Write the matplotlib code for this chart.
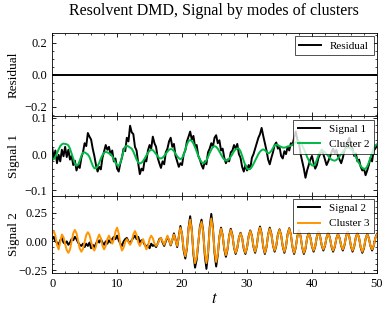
import matplotlib.pyplot as plt
import numpy as np

# time grid (step 0.25)
t = np.linspace(0, 50, 201)

residual = np.zeros(201)

signal_1 = [
    0.018, -0.012, 0.010, -0.025, -0.002, -0.020, 0.012, -0.006,
    0.020, -0.008, 0.012, -0.015, -0.005, -0.030, -0.018, -0.045,
    -0.030, -0.038, -0.010, 0.005, 0.030, 0.022, 0.058, 0.048,
    0.040, 0.015, -0.005, -0.030, -0.048, -0.035, -0.042, -0.010,
    0.008, 0.025, 0.012, 0.020, -0.002, 0.010, -0.020, -0.012,
    -0.040, -0.048, -0.025, -0.010, 0.015, 0.008, 0.045, 0.035,
    0.078, 0.060, 0.055, 0.020, 0.010, -0.025, -0.055, -0.040,
    -0.045, -0.015, -0.020, 0.010, 0.025, 0.015, 0.048, 0.030,
    0.020, -0.010, -0.025, -0.038, -0.020, -0.028, 0.005, 0.015,
    0.035, 0.045, 0.020, 0.028, -0.005, -0.020, -0.035, -0.025,
    -0.030, 0.000, 0.010, 0.035, 0.048, 0.062, 0.040, 0.050,
    0.020, 0.025, -0.005, -0.015, -0.030, -0.040, -0.020, -0.028,
    0.005, 0.015, 0.030, 0.020, 0.045, 0.052, 0.030, 0.038,
    0.010, 0.015, -0.010, -0.025, -0.015, -0.020, 0.005, 0.010,
    0.025, 0.015, 0.028, 0.000, -0.010, -0.035, -0.048, -0.030,
    -0.045, -0.030, -0.040, -0.010, 0.000, 0.015, 0.030, 0.045,
    0.055, 0.072, 0.050, 0.030, 0.010, -0.015, -0.028, -0.010,
    0.005, 0.025, 0.032, 0.015, 0.020, -0.005, -0.012, 0.008,
    0.000, 0.020, 0.010, 0.030, 0.025, 0.045, 0.062, 0.040,
    0.030, 0.000, -0.020, -0.040, -0.065, -0.045, -0.030, -0.015,
    -0.005, -0.025, -0.040, -0.030, -0.010, 0.000, 0.012, 0.000,
    -0.015, -0.030, -0.020, -0.008, 0.005, 0.015, 0.002, 0.012,
    -0.005, -0.015, -0.025, -0.010, 0.010, 0.020, 0.035, 0.045,
    0.025, 0.015, -0.005, 0.002, -0.020, -0.015, -0.035, -0.045,
    -0.040, -0.058, -0.045, -0.030, -0.010, -0.020, 0.010, 0.015,
    0.025,
]

cluster_2 = [
    -0.016, -0.014, -0.007, 0.002, 0.013, 0.022, 0.027, 0.029,
    0.028, 0.027, 0.024, 0.015, 0.001, -0.014, -0.026, -0.032,
    -0.029, -0.018, -0.005, 0.004, 0.005, 0.002, -0.001, -0.008,
    -0.020, -0.032, -0.039, -0.039, -0.033, -0.024, -0.012, -0.003,
    0.004, 0.006, 0.005, 0.002, 0.000, -0.006, -0.015, -0.024,
    -0.030, -0.032, -0.024, -0.008, 0.009, 0.021, 0.023, 0.021,
    0.018, 0.015, 0.007, -0.004, -0.015, -0.023, -0.026, -0.024,
    -0.019, -0.012, -0.004, 0.004, 0.009, 0.012, 0.011, 0.006,
    0.000, -0.006, -0.011, -0.012, -0.010, -0.005, 0.001, 0.007,
    0.012, 0.014, 0.013, 0.008, 0.001, -0.006, -0.011, -0.014,
    -0.011, -0.002, 0.013, 0.027, 0.036, 0.039, 0.036, 0.029,
    0.019, 0.007, -0.005, -0.015, -0.022, -0.025, -0.023, -0.017,
    -0.008, 0.003, 0.012, 0.020, 0.022, 0.020, 0.015, 0.007,
    -0.001, -0.009, -0.015, -0.018, -0.017, -0.013, -0.007, 0.000,
    0.008, 0.013, 0.016, 0.015, 0.008, -0.005, -0.019, -0.031,
    -0.040, -0.042, -0.040, -0.035, -0.027, -0.018, -0.009, 0.000,
    0.007, 0.011, 0.013, 0.011, 0.006, 0.002, 0.004, 0.009,
    0.017, 0.024, 0.026, 0.025, 0.022, 0.020, 0.018, 0.018,
    0.019, 0.021, 0.022, 0.023, 0.026, 0.030, 0.033, 0.035,
    0.035, 0.031, 0.024, 0.014, 0.004, -0.008, -0.017, -0.026,
    -0.031, -0.032, -0.027, -0.016, -0.003, 0.006, 0.010, 0.009,
    0.005, 0.000, -0.005, -0.011, -0.015, -0.017, -0.018, -0.016,
    -0.012, -0.006, 0.000, 0.006, 0.012, 0.016, 0.018, 0.017,
    0.014, 0.009, 0.001, -0.008, -0.017, -0.025, -0.033, -0.038,
    -0.041, -0.040, -0.034, -0.023, -0.010, 0.004, 0.016, 0.024,
    0.027,
]

signal_2 = [
    0.02, 0.04, 0.00, -0.01, -0.03, 0.01, 0.03, -0.01,
    -0.02, 0.00, -0.03, -0.01, 0.02, 0.01, 0.04, 0.02,
    -0.01, -0.03, -0.04, -0.02, -0.05, -0.02, -0.04, -0.01,
    -0.06, -0.03, -0.05, -0.02, 0.01, -0.01, 0.02, -0.01,
    -0.03, 0.00, -0.02, 0.01, -0.01, 0.02, 0.04, 0.02,
    0.05, 0.01, -0.02, -0.04, 0.00, 0.02, 0.03, 0.00,
    -0.02, 0.01, 0.03, 0.05, 0.02, 0.04, -0.01, 0.01,
    0.00, -0.03, -0.05, -0.03, -0.06, -0.02, -0.04, -0.03,
    -0.05, -0.02, 0.02, 0.03, -0.01, -0.04, 0.00, 0.04,
    0.01, -0.035, 0.01, 0.07, 0.015, -0.05, 0.04, 0.135,
    0.06, -0.08, -0.15, -0.06, 0.12, 0.22, 0.10, -0.11,
    -0.23, -0.16, -0.01, 0.13, 0.19, 0.09, -0.12, -0.24,
    -0.11, 0.12, 0.24, 0.12, -0.10, -0.22, -0.12, 0.04,
    0.12, 0.055, -0.07, -0.135, -0.07, 0.05, 0.11, 0.055,
    -0.055, -0.11, -0.06, 0.03, 0.075, 0.03, -0.065, -0.11,
    -0.055, 0.045, 0.095, 0.05, -0.05, -0.10, -0.04, 0.07,
    0.13, 0.07, -0.05, -0.11, -0.05, 0.06, 0.12, 0.065,
    -0.035, -0.09, -0.04, 0.06, 0.105, 0.055, -0.045, -0.10,
    -0.045, 0.065, 0.115, 0.06, -0.05, -0.11, -0.055, 0.045,
    0.095, 0.045, -0.055, -0.11, -0.065, 0.03, 0.075, 0.035,
    -0.045, -0.09, -0.045, 0.04, 0.085, 0.045, -0.035, -0.08,
    -0.04, 0.035, 0.075, 0.035, -0.045, -0.09, -0.05, 0.025,
    0.065, 0.03, -0.04, -0.08, -0.035, 0.045, 0.085, 0.04,
    -0.045, -0.09, -0.045, 0.035, 0.075, 0.03, -0.055, -0.10,
    -0.06, 0.02, 0.065, 0.03, -0.04, -0.08, -0.04, 0.03,
    0.065,
]

cluster_3 = [
    0.07, 0.09, 0.05, -0.03, -0.07, -0.005, 0.06, 0.037,
    -0.02, -0.077, -0.10, -0.071, 0.0, 0.071, 0.10, 0.072,
    0.005, -0.062, -0.09, -0.065, -0.005, 0.055, 0.08, 0.057,
    0.0, -0.057, -0.08, -0.045, 0.025, 0.06, 0.028, -0.038,
    -0.07, -0.04, 0.02, 0.05, 0.015, -0.02, 0.015, 0.085,
    0.12, 0.07, -0.03, -0.08, -0.055, -0.005, 0.02, -0.005,
    -0.03, 0.0, 0.06, 0.09, 0.058, -0.008, -0.04, -0.01,
    0.02, -0.025, -0.07, -0.04, 0.02, 0.05, 0.028, -0.018,
    -0.04, -0.023, 0.013, 0.03, 0.0, -0.03, 0.01, 0.05,
    0.01, -0.03, 0.015, 0.06, 0.01, -0.04, 0.04, 0.12,
    0.058, -0.068, -0.13, -0.05, 0.11, 0.19, 0.095, -0.095,
    -0.19, -0.137, -0.01, 0.117, 0.17, 0.08, -0.10, -0.19,
    -0.092, 0.102, 0.20, 0.105, -0.085, -0.18, -0.108, 0.038,
    0.11, 0.052, -0.062, -0.12, -0.065, 0.045, 0.10, 0.05,
    -0.05, -0.10, -0.058, 0.028, 0.07, 0.028, -0.058, -0.10,
    -0.052, 0.042, 0.09, 0.045, -0.045, -0.09, -0.038, 0.068,
    0.12, 0.065, -0.045, -0.10, -0.048, 0.058, 0.11, 0.062,
    -0.032, -0.08, -0.035, 0.055, 0.10, 0.052, -0.042, -0.09,
    -0.04, 0.06, 0.11, 0.058, -0.048, -0.10, -0.052, 0.042,
    0.09, 0.042, -0.052, -0.10, -0.058, 0.028, 0.07, 0.032,
    -0.042, -0.08, -0.04, 0.04, 0.08, 0.042, -0.032, -0.07,
    -0.035, 0.035, 0.07, 0.032, -0.042, -0.08, -0.045, 0.025,
    0.06, 0.028, -0.038, -0.07, -0.032, 0.042, 0.08, 0.04,
    -0.04, -0.08, -0.042, 0.032, 0.07, 0.03, -0.05, -0.09,
    -0.052, 0.022, 0.06, 0.028, -0.038, -0.07, -0.038, 0.028,
    0.06,
]

plt.rcParams.update({
    'font.family': ['Liberation Serif', 'DejaVu Serif'],
    'mathtext.fontset': 'stix',
    'font.size': 9,
    'axes.linewidth': 0.6,
    'xtick.direction': 'in',
    'ytick.direction': 'in',
    'xtick.top': True,
    'ytick.right': True,
    'xtick.minor.visible': True,
    'ytick.minor.visible': True,
    'xtick.major.size': 3,
    'ytick.major.size': 3,
    'xtick.minor.size': 1.5,
    'ytick.minor.size': 1.5,
    'xtick.major.width': 0.6,
    'ytick.major.width': 0.6,
    'xtick.minor.width': 0.5,
    'ytick.minor.width': 0.5,
    'xtick.labelsize': 9,
    'ytick.labelsize': 9,
    'legend.fancybox': False,
    'legend.edgecolor': 'k',
    'legend.framealpha': 0.8,
    'legend.fontsize': 8,
})

fig, axes = plt.subplots(3, 1, figsize=(3.89, 3.14), dpi=100, sharex=True,
                         gridspec_kw={'height_ratios': [83, 79, 77]})
fig.subplots_adjust(left=0.134, right=0.969, top=0.895, bottom=0.131, hspace=0)

lw = 1.4
ax = axes[0]
ax.plot(t, residual, color='k', lw=lw, label='Residual')
ax.set_ylim(-0.26, 0.26)
ax.set_yticks([-0.2, 0.0, 0.2])
ax.set_ylabel('Residual', fontsize=9.5)

ax = axes[1]
ax.plot(t, signal_1, color='k', lw=lw, label='Signal 1')
ax.plot(t, cluster_2, color='#00B945', lw=lw, label='Cluster 2')
ax.set_ylim(-0.114, 0.104)
ax.set_yticks([-0.1, 0.0, 0.1])
ax.set_ylabel('Signal 1', fontsize=9.5)

ax = axes[2]
ax.plot(t, signal_2, color='k', lw=lw, label='Signal 2')
ax.plot(t, cluster_3, color='#FF9500', lw=lw, label='Cluster 3')
ax.set_ylim(-0.275, 0.4)
ax.set_yticks([-0.25, 0.0, 0.25])
ax.set_ylabel('Signal 2', fontsize=9.5)
ax.set_xlim(0, 50)
ax.set_xlabel('$t$', fontsize=12)
ax.xaxis.labelpad = 1

for ax in axes:
    leg = ax.legend(loc='upper right', borderaxespad=0.3)
    leg.get_frame().set_linewidth(0.6)
    ax.yaxis.set_label_coords(-0.10, 0.5)

fig.suptitle('Resolvent DMD, Signal by modes of clusters', x=0.551, y=0.965,
             va='center', fontsize=11.5)

fig.savefig('out.png', dpi=100)
